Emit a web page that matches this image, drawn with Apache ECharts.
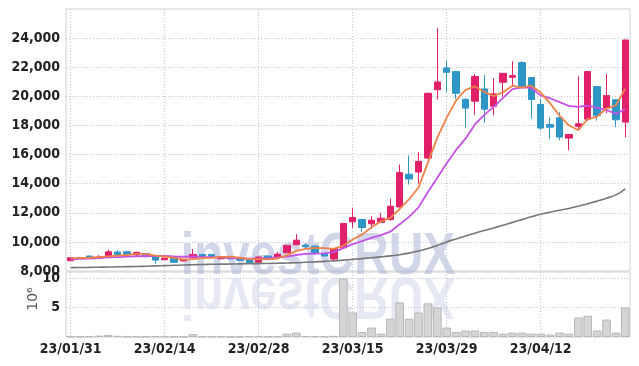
<!DOCTYPE html>
<html>
<head>
<meta charset="utf-8">
<script src="https://cdn.jsdelivr.net/npm/echarts@6/dist/echarts.min.js"></script>
<style>
html, body { margin: 0; padding: 0; background: #fff; }
#main { width: 639px; height: 366px; }
</style>
</head>
<body>
<div id="main"></div>
<script>
// trading days shown on the chart
var dates = ['23/01/31', '23/02/01', '23/02/02', '23/02/03', '23/02/06', '23/02/07', '23/02/08', '23/02/09', '23/02/10', '23/02/13',
    '23/02/14', '23/02/15', '23/02/16', '23/02/17', '23/02/20', '23/02/21', '23/02/22', '23/02/23', '23/02/24', '23/02/27',
    '23/02/28', '23/03/02', '23/03/03', '23/03/06', '23/03/07', '23/03/08', '23/03/09', '23/03/10', '23/03/13', '23/03/14',
    '23/03/15', '23/03/16', '23/03/17', '23/03/20', '23/03/21', '23/03/22', '23/03/23', '23/03/24', '23/03/27', '23/03/28',
    '23/03/29', '23/03/30', '23/03/31', '23/04/03', '23/04/04', '23/04/05', '23/04/06', '23/04/07', '23/04/10', '23/04/11',
    '23/04/12', '23/04/13', '23/04/14', '23/04/17', '23/04/18', '23/04/19', '23/04/20', '23/04/21', '23/04/24', '23/04/25'];

// [open, close, low, high]
var candles = [
    [8710, 8910, 8680, 8930], [8880, 8900, 8860, 8920], [9030, 8940, 8920, 9040], [8880, 8960, 8860, 9100], [9050, 9320, 9020, 9480],
    [9300, 9140, 9100, 9440], [9320, 9140, 9100, 9400], [9100, 9280, 8980, 9320], [9210, 8980, 8950, 9250], [9030, 8750, 8500, 9050],
    [8770, 8890, 8750, 8910], [8940, 8600, 8560, 8960], [8690, 8740, 8660, 8800], [8910, 9140, 8880, 9510], [9140, 9010, 8900, 9160],
    [9140, 8990, 8980, 9160], [8840, 8980, 8820, 9000], [8960, 8830, 8800, 8980], [8910, 8730, 8700, 8930], [8770, 8570, 8550, 8790],
    [8600, 8960, 8560, 8980], [9030, 8890, 8870, 9050], [8940, 9160, 8920, 9320], [9250, 9760, 9230, 9780], [9800, 10120, 9780, 10530],
    [9780, 9670, 9560, 9900], [9710, 9250, 9100, 9740], [9210, 9030, 9000, 9240], [8820, 9550, 8640, 9580], [9600, 11270, 9580, 11300],
    [11380, 11680, 10950, 12340], [11540, 10990, 10690, 11560], [11240, 11490, 10900, 11770], [11340, 11630, 11300, 11990], [11540, 12450, 11450, 12980],
    [12400, 14760, 12350, 15310], [14650, 14320, 13940, 15930], [14800, 15530, 14010, 16170], [15760, 20210, 15700, 20250], [20450, 20990, 19780, 24690],
    [21950, 21650, 20280, 22450], [21700, 20210, 19830, 21720], [19800, 19190, 17840, 19850], [19670, 21360, 18730, 21540], [20510, 19120, 18190, 21470],
    [19320, 20170, 18690, 21240], [20970, 21580, 19990, 21600], [21310, 21430, 20670, 22410], [22320, 20690, 20650, 22410], [21290, 19780, 18460, 21310],
    [19440, 17820, 17660, 19830], [18070, 17880, 17090, 18530], [18530, 17200, 16970, 18910], [17130, 17380, 16290, 17400], [17930, 18120, 17730, 21380],
    [18430, 21700, 18300, 21720], [20670, 18690, 18340, 20700], [19190, 20060, 18840, 21540], [19760, 18390, 17880, 19800], [18230, 23870, 17200, 23900]
];

var ma5 = [8880, 8890, 8910, 8950, 9010, 9050, 9100, 9170, 9170, 9060,
    9010, 8900, 8790, 8820, 8880, 8900, 8970, 8990, 8910, 8820,
    8810, 8800, 8860, 9070, 9380, 9520, 9590, 9570, 9520, 9750,
    10160, 10500, 11000, 11410, 11650, 12260, 12930, 13740, 15450, 17160,
    18540, 19720, 20450, 20680, 20310, 20010, 20280, 20730, 20600, 20730,
    20260, 19520, 18670, 18010, 17670, 18440, 18610, 19180, 19380, 20530];

var ma10 = [8800, 8830, 8860, 8890, 8930, 8960, 8990, 9010, 9030, 9030,
    9030, 9000, 8980, 9000, 8970, 8950, 8940, 8890, 8870, 8850,
    8860, 8880, 8930, 8990, 9100, 9170, 9190, 9210, 9300, 9570,
    9840, 10050, 10280, 10470, 10700, 11210, 11720, 12370, 13430, 14410,
    15400, 16320, 17090, 18070, 18730, 19280, 19900, 20490, 20620, 20580,
    20050, 19870, 19600, 19350, 19270, 19370, 19200, 19060, 18790, 19130];

var maLong = [8230, 8240, 8250, 8260, 8270, 8290, 8300, 8310, 8330, 8350,
    8370, 8390, 8410, 8430, 8450, 8460, 8470, 8480, 8490, 8500,
    8510, 8520, 8530, 8550, 8570, 8600, 8630, 8660, 8700, 8750,
    8800, 8850, 8910, 8970, 9040, 9120, 9230, 9370, 9540, 9760,
    10000, 10200, 10400, 10600, 10780, 10960, 11140, 11340, 11530, 11720,
    11900, 12040, 12170, 12300, 12450, 12620, 12800, 13000, 13230, 13650];

// volume in millions of shares
var volume = [0.08, 0.06, 0.1, 0.25, 0.35, 0.2, 0.08, 0.06, 0.05, 0.1,
    0.08, 0.06, 0.05, 0.5, 0.1, 0.08, 0.06, 0.05, 0.06, 0.08,
    0.1, 0.06, 0.1, 0.57, 0.75, 0.15, 0.12, 0.1, 0.2, 9.93,
    4.15, 0.85, 1.6, 0.57, 3.1, 5.85, 3.1, 4.15, 5.7, 5.0,
    1.6, 0.85, 1.1, 1.1, 0.85, 0.85, 0.57, 0.74, 0.74, 0.57,
    0.57, 0.4, 0.74, 0.57, 3.3, 3.6, 1.1, 2.95, 0.74, 5.0];

var upColor = '#e2206a';
var downColor = '#2e95c7';
var gridLine = '#c2c6da';
var labelFont = "'Liberation Sans Narrow', 'DejaVu Sans Condensed', sans-serif";

var myChart = echarts.init(document.getElementById('main'));

var catAxis = function (gridIndex, showLabel) {
    return {
        type: 'category',
        gridIndex: gridIndex,
        data: dates,
        boundaryGap: true,
        axisLine: { show: false },
        axisTick: { show: false },
        axisLabel: {
            show: showLabel,
            interval: 9,
            margin: 5,
            color: '#222',
            fontSize: 14,
            fontWeight: 'bold',
            fontFamily: labelFont
        },
        splitLine: {
            show: true,
            interval: 9,
            alignWithLabel: true,
            lineStyle: { color: gridLine, type: [1, 2] }
        }
    };
};

var option = {
    animation: false,
    backgroundColor: '#fff',
    grid: [
        { left: 66, right: 9, top: 9, height: 262, show: true, borderColor: '#d2d2d2', borderWidth: 1 },
        { left: 66, right: 9, top: 272, height: 65, show: true, borderColor: '#d2d2d2', borderWidth: 1 }
    ],
    graphic: [
        {
            type: 'text', x: 318, y: 287, z: 0, scaleY: 1.25,
            style: {
                text: 'investCRUX', font: 'bold 48px "Liberation Sans"',
                fill: 'rgba(172,182,214,0.55)', textAlign: 'center', textVerticalAlign: 'bottom'
            }
        },
        {
            type: 'text', x: 318, y: 265, z: 0, scaleY: -1.25,
            style: {
                text: 'investCRUX', font: 'bold 48px "Liberation Sans"',
                fill: 'rgba(172,182,214,0.3)', textAlign: 'center', textVerticalAlign: 'bottom'
            }
        },
        {
            type: 'text', x: 33, y: 299, rotation: Math.PI / 2,
            style: {
                text: '10⁶', font: '14px "DejaVu Sans"', fill: '#555',
                textAlign: 'center', textVerticalAlign: 'middle'
            }
        }
    ],
    xAxis: [catAxis(0, false), catAxis(1, true)],
    yAxis: [
        {
            type: 'value',
            gridIndex: 0,
            min: 8000,
            max: 26000,
            interval: 2000,
            axisLine: { show: false },
            axisTick: { show: false },
            axisLabel: {
                showMaxLabel: false,
                margin: 6,
                color: '#222',
                fontSize: 14,
                fontWeight: 'bold',
                fontFamily: labelFont,
                formatter: function (v) { return v.toLocaleString('en-US'); }
            },
            splitLine: { showMinLine: false, showMaxLine: false, lineStyle: { color: gridLine, type: [1, 2] } }
        },
        {
            type: 'value',
            gridIndex: 1,
            min: 0,
            max: 11,
            interval: 5,
            axisLine: { show: false },
            axisTick: { show: false },
            axisLabel: {
                showMaxLabel: false,
                showMinLabel: false,
                margin: 6,
                color: '#222',
                fontSize: 14,
                fontWeight: 'bold',
                fontFamily: labelFont
            },
            splitLine: { showMinLine: false, showMaxLine: false, lineStyle: { color: gridLine, type: [1, 2] } }
        }
    ],
    series: [
        {
            name: 'price',
            type: 'candlestick',
            xAxisIndex: 0,
            yAxisIndex: 0,
            barWidth: '72%',
            itemStyle: {
                color: upColor,
                color0: downColor,
                borderColor: upColor,
                borderColor0: downColor,
                borderWidth: 1
            },
            data: candles
        },
        {
            name: 'MA long',
            type: 'line',
            xAxisIndex: 0,
            yAxisIndex: 0,
            symbol: 'none',
            smooth: true,
            lineStyle: { color: '#777', width: 1.6 },
            data: maLong
        },
        {
            name: 'MA10',
            type: 'line',
            xAxisIndex: 0,
            yAxisIndex: 0,
            symbol: 'none',
            lineStyle: { color: '#c552e6', width: 1.8 },
            data: ma10
        },
        {
            name: 'MA5',
            type: 'line',
            xAxisIndex: 0,
            yAxisIndex: 0,
            symbol: 'none',
            lineStyle: { color: '#ef8248', width: 1.8 },
            data: ma5
        },
        {
            name: 'volume',
            type: 'bar',
            xAxisIndex: 1,
            yAxisIndex: 1,
            barWidth: '92%',
            itemStyle: { color: '#d5d5d5', borderColor: '#b8b8b8', borderWidth: 1 },
            data: volume
        }
    ]
};

myChart.setOption(option);
</script>
</body>
</html>
